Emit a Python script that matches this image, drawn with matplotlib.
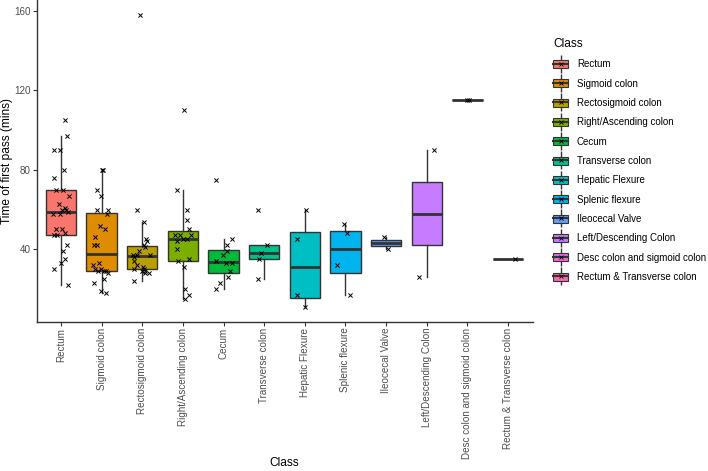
import numpy as np
import matplotlib
matplotlib.use("Agg")
import matplotlib.pyplot as plt
from matplotlib.patches import Patch
from matplotlib.lines import Line2D

plt.rcParams['font.family'] = ['Liberation Sans', 'DejaVu Sans']

classes = ["Rectum", "Sigmoid colon", "Rectosigmoid colon", "Right/Ascending colon",
           "Cecum", "Transverse colon", "Hepatic Flexure", "Splenic flexure",
           "Ileocecal Valve", "Left/Descending Colon", "Desc colon and sigmoid colon",
           "Rectum & Transverse colon"]
colours = ["#F8766D", "#DE8C00", "#B79F00", "#7CAE00", "#00BA38", "#00C08B",
           "#00BFC4", "#00B4F0", "#619CFF", "#C77CFF", "#F564E3", "#FF64B0"]

# time of first pass (mins) per class
rectum = [105, 97, 90, 90, 80, 76, 70, 70, 67, 63, 61, 60, 60, 59, 58, 58,
          50, 50, 48, 47, 47, 42, 39, 35, 33, 30, 22]
rectum_dx = [0.09, 0.16, -0.18, -0.02, 0.08, -0.18, 0.05, -0.13, 0.2, -0.05, 0.1, 0.12,
             0.03, 0.18, -0.19, -0.02, -0.12, 0.02, 0.1, -0.16, -0.09, 0.16, 0.05, 0.1,
             0.01, -0.17, 0.17]

sigmoid = [80, 80, 70, 67, 60, 60, 58, 52, 50, 46, 42, 42, 33, 32, 30, 30,
           29, 29, 29, 28, 25, 23, 19, 18]
sigmoid_dx = [0.0, 0.03, -0.11, -0.02, -0.11, 0.15, 0.13, -0.03, 0.09, -0.15, -0.19, -0.1,
              -0.07, -0.2, -0.16, -0.02, -0.09, 0.07, 0.12, 0.16, 0.07, -0.18, -0.02, 0.12]

rectosigmoid = [158, 60, 54, 45, 44, 42, 41, 39, 37, 37, 37, 36, 34, 32, 31,
                30, 30, 29, 29, 28, 28, 24]
rectosigmoid_dx = [-0.06, -0.13, 0.04, 0.1, 0.13, 0.05, 0.08, -0.08, -0.23, -0.12, 0.2,
                   -0.2, -0.2, -0.14, 0.01, -0.2, 0.04, 0.08, -0.01, 0.08, 0.16, -0.2]

right_asc = [110, 70, 60, 55, 50, 47, 47, 47, 45, 45, 44, 40, 35, 34, 31, 20, 17, 15]
right_asc_dx = [0.04, -0.15, 0.11, 0.11, 0.14, -0.2, -0.08, 0.2, 0.0, 0.1, -0.15, -0.15,
                0.14, -0.11, 0.03, 0.05, 0.15, 0.06]

cecum = [75, 45, 42, 39, 37, 34, 33, 33, 29, 26, 23, 20]
cecum_dx = [-0.18, 0.2, 0.09, 0.09, -0.02, -0.19, 0.06, 0.2, 0.17, 0.12, -0.08, -0.19]

transverse = [60, 42, 38, 35, 25]
transverse_dx = [-0.14, 0.07, -0.07, -0.12, -0.14]

hepatic = [60, 45, 17, 11]
hepatic_dx = [0.03, -0.19, -0.19, 0.01]

splenic = [53, 48, 32, 17]
splenic_dx = [-0.04, 0.03, -0.21, 0.11]

ileocecal = [46, 40]
ileocecal_dx = [-0.05, 0.04]

left_desc = [90, 26]
left_desc_dx = [0.18, -0.19]

desc_sigmoid = [115, 115]
desc_sigmoid_dx = [-0.01, 0.03]

rectum_transverse = [35]
rectum_transverse_dx = [0.18]

values = [rectum, sigmoid, rectosigmoid, right_asc, cecum, transverse, hepatic,
          splenic, ileocecal, left_desc, desc_sigmoid, rectum_transverse]
offsets = [rectum_dx, sigmoid_dx, rectosigmoid_dx, right_asc_dx, cecum_dx, transverse_dx,
           hepatic_dx, splenic_dx, ileocecal_dx, left_desc_dx, desc_sigmoid_dx,
           rectum_transverse_dx]

edge = "#333333"
fig = plt.figure(figsize=(7.08, 4.71), dpi=100)
ax = fig.add_axes([36.5 / 708, 1 - 321.7 / 471, 496 / 708, 321.7 / 471])

pos = np.arange(1, len(classes) + 1)
bp = ax.boxplot(values, positions=pos, widths=0.75, patch_artist=True,
                showfliers=False, showcaps=False, whis=1.5,
                boxprops=dict(edgecolor=edge, linewidth=1.0),
                whiskerprops=dict(color=edge, linewidth=1.0),
                medianprops=dict(color=edge, linewidth=2.0))
for box, c in zip(bp['boxes'], colours):
    box.set_facecolor(c)

for p, v, dx in zip(pos, values, offsets):
    ax.scatter(p + np.array(dx), v, marker='x', s=9, color='black',
               linewidths=0.7, zorder=4)

allv = np.concatenate([np.array(v, float) for v in values])
span = allv.max() - allv.min()
ax.set_ylim(allv.min() - 0.05 * span, allv.max() + 0.05 * span)
ax.set_xlim(0.4, len(classes) + 0.6)
ax.set_yticks([40, 80, 120, 160])
ax.set_xticks(pos)
ax.set_xticklabels(classes, rotation=90, ha='center', va='top')

for s in ['top', 'right']:
    ax.spines[s].set_visible(False)
for s in ['left', 'bottom']:
    ax.spines[s].set_color(edge)
    ax.spines[s].set_linewidth(1.0)
ax.tick_params(colors=edge, labelcolor='#4D4D4D', labelsize=7.1, length=2.7,
               width=0.8, pad=1.5)

ax.set_xlabel('Class', fontsize=8.6, color='black')
ax.set_ylabel('Time of first pass (mins)', fontsize=8.6, color='black')
ax.xaxis.set_label_coords(0.5, (321.7 - 457) / 321.7)
ax.yaxis.set_label_coords((13 - 36.5) / 496, 0.5)

handles = []
for c in colours:
    whisk = Line2D([], [], linestyle='none', marker='|', markersize=12.5,
                   markeredgewidth=1.0, color=edge)
    patch = Patch(facecolor=c, edgecolor=edge, linewidth=0.8)
    med = Line2D([], [], color=edge, linewidth=1.5)
    pt = Line2D([], [], linestyle='none', marker='x', markersize=3, color='black',
                markeredgewidth=0.6)
    handles.append((whisk, patch, med, pt))

leg = fig.legend(handles, classes, loc='upper left',
                 bbox_to_anchor=(553 / 708, 1 - 38 / 471), frameon=False,
                 title='Class', title_fontsize=8.6, fontsize=7.0,
                 handlelength=1.55, handleheight=0.9, handletextpad=0.9,
                 labelspacing=0.96, borderpad=0, borderaxespad=0,
                 alignment='left')

fig.savefig('out.png', dpi=100)
